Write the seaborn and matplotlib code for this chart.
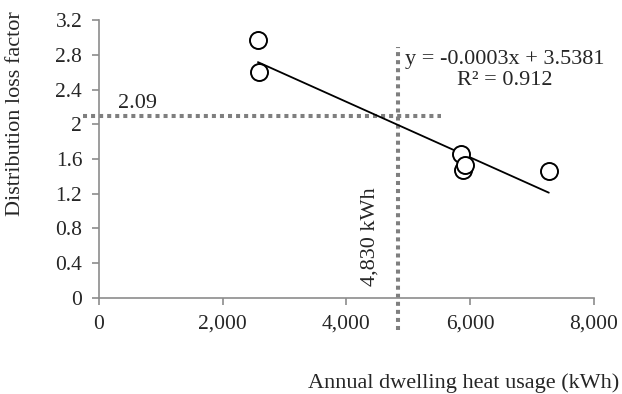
import seaborn as sns
import matplotlib.pyplot as plt
import numpy as np
import pandas as pd

# data
heat_usage = [2570, 2585, 5850, 5880, 5910, 7270]
loss_factor = [2.97, 2.60, 1.66, 1.47, 1.53, 1.46]
trend_slope = -0.00032
trend_intercept = 3.5381
cross_x = 4830
cross_y = 2.09
y_ticks = [0, 0.4, 0.8, 1.2, 1.6, 2, 2.4, 2.8, 3.2]
y_tick_labels = ['0', '0.4', '0.8', '1.2', '1.6', '2', '2.4', '2.8', '3.2']
x_ticks = [0, 2000, 4000, 6000, 8000]
x_tick_labels = ['0', '2,000', '4,000', '6,000', '8,000']

sns.set_style('white')
plt.rcParams['font.family'] = ['Liberation Serif', 'DejaVu Serif']

df = pd.DataFrame({'usage': heat_usage, 'dlf': loss_factor})

fig = plt.figure(figsize=(6.22, 3.94), dpi=100)
ax = fig.add_axes([0.159, 0.244, 0.796, 0.705])

# dotted guide lines
ax.plot([-260, 5530], [cross_y, cross_y], color='#7f7f7f', lw=2.9,
        linestyle=(0, (1, 1)), clip_on=False, zorder=1)
ax.plot([cross_x, cross_x], [-0.37, 2.89], color='#7f7f7f', lw=2.9,
        linestyle=(0, (1, 1)), clip_on=False, zorder=1)

# trend line
tx = np.array([min(heat_usage), max(heat_usage)])
ax.plot(tx, trend_slope * tx + trend_intercept, color='black', lw=1.3, zorder=2)

sns.scatterplot(data=df, x='usage', y='dlf', ax=ax, s=150, facecolor='white',
                edgecolor='black', linewidth=1.4, zorder=3)

ax.set_xlim(0, 8000)
ax.set_ylim(0, 3.2)
ax.set_xticks(x_ticks)
ax.set_xticklabels(x_tick_labels)
ax.set_yticks(y_ticks)
ax.set_yticklabels(y_tick_labels)
ax.tick_params(axis='both', labelsize=15.5, length=5, width=1.2, color='#8c8c8c',
               direction='out', bottom=True, left=True, pad=7)
for side in ['top', 'right']:
    ax.spines[side].set_visible(False)
for side in ['left', 'bottom']:
    ax.spines[side].set_color('#8c8c8c')
    ax.spines[side].set_linewidth(1.2)

ax.set_xlabel('')
ax.set_ylabel('Distribution loss factor', fontsize=16)
ax.yaxis.set_label_coords(-0.15, 0.665)
fig.text(0.995, 1 - 383 / 394, 'Annual dwelling heat usage (kWh)',
         fontsize=16, ha='right', va='center')

ax.text(310, 2.24, '2.09', fontsize=16, ha='left', va='center')
ax.text(4380, 0.70, '4,830 kWh', fontsize=16, rotation=90, ha='center', va='center')
ax.text(6560, 2.63, 'y = -0.0003x + 3.5381\nR² = 0.912', fontsize=16,
        ha='center', va='center', multialignment='center', linespacing=1.15)

fig.savefig('out.png', dpi=100)
